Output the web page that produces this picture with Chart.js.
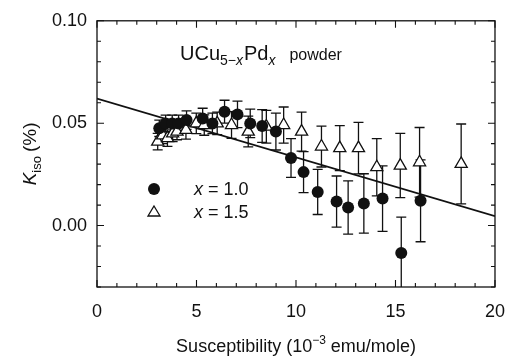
<!DOCTYPE html>
<html>
<head>
<meta charset="utf-8">
<script src="https://cdn.jsdelivr.net/npm/chart.js@4.4.1/dist/chart.umd.min.js"></script>
<style>
  html, body { margin: 0; padding: 0; background: #fff; }
  #wrap { width: 519px; height: 356px; }
</style>
</head>
<body>
<div id="wrap"><canvas id="chart" width="519" height="356"></canvas></div>
<script>
// x = 1.0 (filled circles)
const circX = [3.13, 3.45, 3.78, 4.10, 4.50, 5.31, 5.80, 6.41, 7.06, 7.70, 8.30, 8.99, 9.75, 10.38, 11.09, 12.04, 12.62, 13.41, 14.35, 15.29, 16.26];
const circY = [0.0475, 0.0499, 0.0499, 0.0499, 0.0515, 0.0523, 0.0499, 0.0556, 0.0543, 0.0499, 0.0486, 0.0459, 0.0330, 0.0261, 0.0164, 0.0117, 0.0088, 0.0108, 0.0132, -0.0134, 0.0121];
const circErr = [0.004, 0.004, 0.004, 0.004, 0.0045, 0.005, 0.005, 0.0056, 0.0065, 0.007, 0.008, 0.009, 0.0095, 0.010, 0.011, 0.0125, 0.013, 0.0145, 0.016, 0.0175, 0.020];

// x = 1.5 (open triangles)
const triX = [3.05, 3.30, 3.54, 3.80, 4.02, 4.47, 4.99, 5.39, 6.04, 6.76, 7.60, 8.51, 9.38, 10.28, 11.28, 12.20, 13.14, 14.06, 15.24, 16.21, 18.30];
const triY = [0.0410, 0.0440, 0.0427, 0.0450, 0.0459, 0.0467, 0.0499, 0.0491, 0.0499, 0.0491, 0.0459, 0.0483, 0.0491, 0.0459, 0.0386, 0.0378, 0.0378, 0.0285, 0.0293, 0.0309, 0.0301];
const triErr = [0.004, 0.004, 0.004, 0.004, 0.004, 0.0045, 0.005, 0.005, 0.0055, 0.0065, 0.0075, 0.008, 0.0088, 0.0095, 0.010, 0.011, 0.0126, 0.014, 0.0157, 0.017, 0.0195];

// straight line
const fitX = [0, 20];
const fitY = [0.0620, 0.0046];

const xTicks = [0, 5, 10, 15, 20];
const yTicks = [0.00, 0.05, 0.10];

const FONT = '"Liberation Sans", Arial, Helvetica, sans-serif';

function pts(xs, ys) {
    return xs.map((x, i) => ({ x: x, y: ys[i] }));
}

// draw a run of text pieces with different fonts / offsets
function drawRich(ctx, parts, x, y, align) {
    let total = 0;
    parts.forEach(p => { ctx.font = p.font; total += ctx.measureText(p.t).width + (p.gap || 0); });
    let cx = align === 'center' ? x - total / 2 : x;
    ctx.textBaseline = 'alphabetic';
    ctx.textAlign = 'left';
    parts.forEach(p => {
        ctx.font = p.font;
        ctx.fillText(p.t, cx, y + (p.dy || 0));
        cx += ctx.measureText(p.t).width + (p.gap || 0);
    });
}

const errorBars = {
    id: 'errorBars',
    beforeDatasetsDraw(chart) {
        const { ctx, chartArea, scales: { x, y } } = chart;
        ctx.save();
        ctx.beginPath();
        ctx.rect(chartArea.left, chartArea.top, chartArea.right - chartArea.left, chartArea.bottom - chartArea.top);
        ctx.clip();
        ctx.strokeStyle = '#111';
        ctx.lineWidth = 1.3;
        const sets = [[triX, triY, triErr], [circX, circY, circErr]];
        sets.forEach(([xs, ys, es]) => {
            xs.forEach((xv, i) => {
                const px = x.getPixelForValue(xv);
                const top = y.getPixelForValue(ys[i] + es[i]);
                const bot = y.getPixelForValue(ys[i] - es[i]);
                ctx.beginPath();
                ctx.moveTo(px, top); ctx.lineTo(px, bot);
                ctx.moveTo(px - 5, top); ctx.lineTo(px + 5, top);
                ctx.moveTo(px - 5, bot); ctx.lineTo(px + 5, bot);
                ctx.stroke();
            });
        });
        ctx.restore();
    }
};

const frameAndText = {
    id: 'frameAndText',
    afterDraw(chart) {
        const { ctx, chartArea: a, scales: { x, y } } = chart;
        ctx.save();
        ctx.strokeStyle = '#111';
        ctx.lineWidth = 1.3;
        ctx.strokeRect(a.left, a.top, a.right - a.left, a.bottom - a.top);

        // inward ticks on all four sides
        ctx.lineWidth = 1.1;
        ctx.beginPath();
        for (let v = 0; v <= 20; v++) {
            const px = x.getPixelForValue(v);
            const len = v % 5 === 0 ? 7 : 4;
            ctx.moveTo(px, a.bottom); ctx.lineTo(px, a.bottom - len);
            ctx.moveTo(px, a.top); ctx.lineTo(px, a.top + len);
        }
        for (let k = -3; k <= 10; k++) {
            const py = y.getPixelForValue(k / 100);
            const len = k % 5 === 0 ? 7 : 4;
            ctx.moveTo(a.left, py); ctx.lineTo(a.left + len, py);
            ctx.moveTo(a.right, py); ctx.lineTo(a.right - len, py);
        }
        ctx.stroke();

        ctx.fillStyle = '#111';
        // annotation
        drawRich(ctx, [
            { t: 'UCu', font: '20px ' + FONT },
            { t: '5\u2212', font: '14px ' + FONT, dy: 5 },
            { t: 'x', font: 'italic 14px ' + FONT, dy: 5, gap: 1 },
            { t: 'Pd', font: '20px ' + FONT },
            { t: 'x', font: 'italic 14px ' + FONT, dy: 5, gap: 14 },
            { t: 'powder', font: '16px ' + FONT }
        ], a.left + 83, 60, 'left');

        // legend
        const lx = a.left + 57;
        ctx.beginPath();
        ctx.arc(lx, 189, 6, 0, Math.PI * 2);
        ctx.fill();
        ctx.beginPath();
        ctx.moveTo(lx, 206); ctx.lineTo(lx + 6, 216); ctx.lineTo(lx - 6, 216); ctx.closePath();
        ctx.lineWidth = 1.3;
        ctx.stroke();
        drawRich(ctx, [{ t: 'x', font: 'italic 18px ' + FONT }, { t: ' = 1.0', font: '18px ' + FONT }], a.left + 97, 195, 'left');
        drawRich(ctx, [{ t: 'x', font: 'italic 18px ' + FONT }, { t: ' = 1.5', font: '18px ' + FONT }], a.left + 97, 218, 'left');

        // x-axis title
        drawRich(ctx, [
            { t: 'Susceptibility (10', font: '18px ' + FONT },
            { t: '\u22123', font: '12px ' + FONT, dy: -8 },
            { t: ' emu/mole)', font: '18px ' + FONT }
        ], (a.left + a.right) / 2, 352, 'center');

        // y-axis title
        ctx.translate(36, (a.top + a.bottom) / 2);
        ctx.rotate(-Math.PI / 2);
        drawRich(ctx, [
            { t: 'K', font: 'italic 19px ' + FONT },
            { t: 'iso', font: '13px ' + FONT, dy: 5, gap: 4 },
            { t: '(%)', font: '19px ' + FONT }
        ], 0, 0, 'center');
        ctx.restore();
    }
};

new Chart(document.getElementById('chart'), {
    type: 'scatter',
    data: {
        datasets: [
            {
                label: 'x = 1.0',
                data: pts(circX, circY),
                pointStyle: 'circle',
                pointRadius: 6,
                backgroundColor: '#111',
                borderColor: '#111',
                borderWidth: 0
            },
            {
                label: 'x = 1.5',
                data: pts(triX, triY),
                pointStyle: 'triangle',
                pointRadius: 7,
                backgroundColor: '#fff',
                borderColor: '#111',
                borderWidth: 1.3
            },
            {
                type: 'line',
                label: 'fit',
                data: pts(fitX, fitY),
                borderColor: '#111',
                borderWidth: 1.6,
                pointRadius: 0,
                fill: false
            }
        ]
    },
    options: {
        responsive: false,
        animation: false,
        devicePixelRatio: 1,
        layout: { padding: { left: 0, right: 9, top: 18, bottom: 0 } },
        plugins: { legend: { display: false }, tooltip: { enabled: false } },
        scales: {
            x: {
                type: 'linear',
                min: 0,
                max: 20,
                grid: { display: false, drawTicks: false },
                border: { display: false },
                afterBuildTicks: s => { s.ticks = xTicks.map(v => ({ value: v })); },
                afterFit: s => { s.height = 69; },
                ticks: { color: '#111', padding: 14, maxRotation: 0, font: { family: FONT, size: 18 } }
            },
            y: {
                type: 'linear',
                min: -0.03,
                max: 0.10,
                grid: { display: false, drawTicks: false },
                border: { display: false },
                afterBuildTicks: s => { s.ticks = yTicks.map(v => ({ value: v })); },
                afterFit: s => { s.width = 97; },
                ticks: { color: '#111', padding: 10, font: { family: FONT, size: 18 }, callback: v => v.toFixed(2) }
            }
        }
    },
    plugins: [errorBars, frameAndText]
});
</script>
</body>
</html>
